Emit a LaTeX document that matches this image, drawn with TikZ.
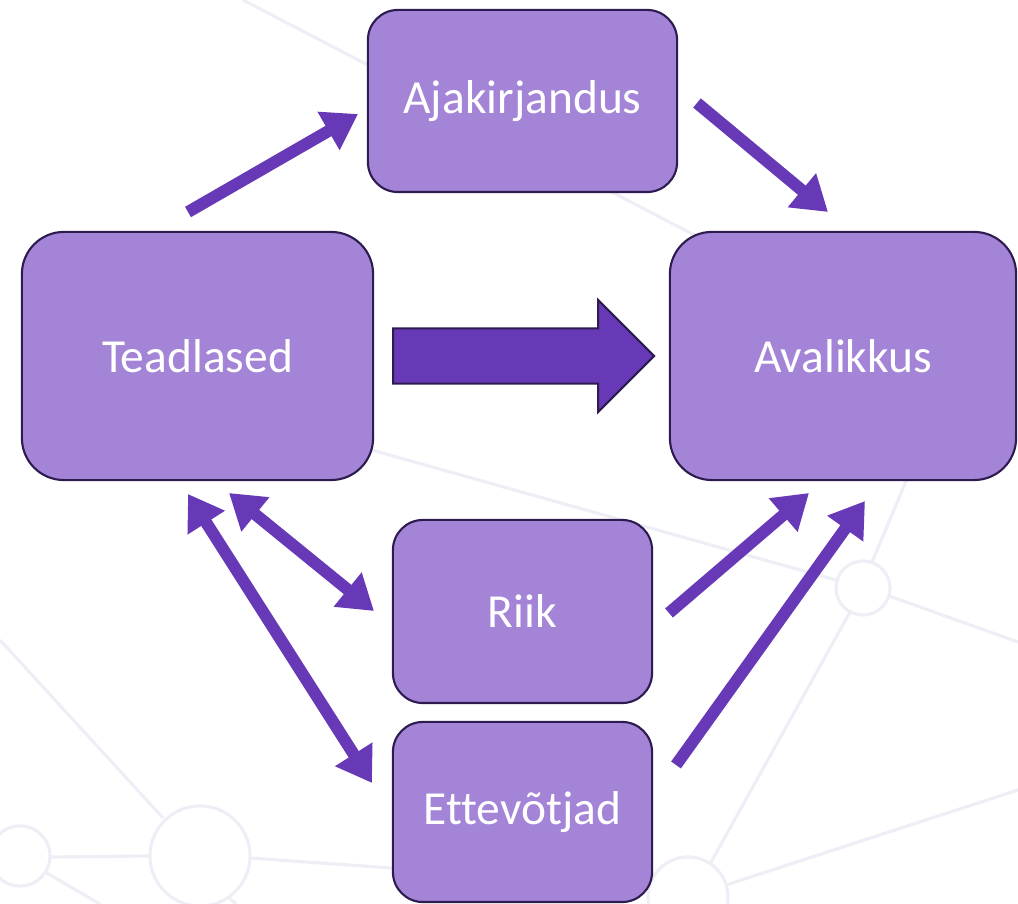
\documentclass[tikz,border=0pt]{standalone}
\usepackage{fontspec}
\setmainfont{Carlito}[Ligatures=NoCommon]
\usetikzlibrary{arrows.meta,shapes.arrows}
\definecolor{boxfill}{HTML}{A384D7}
\definecolor{boxline}{HTML}{2E1B50}
\definecolor{arrowpurple}{HTML}{6739B6}
\definecolor{netgrey}{HTML}{EFEEF6}
\tikzset{
  actor/.style={draw=boxline, line width=0.6pt, fill=boxfill, rounded corners=0.3cm,
    text=white, inner sep=0pt, font=\fontsize{13.5}{16}\selectfont},
  bigactor/.style={actor, rounded corners=0.42cm},
  link/.style={arrowpurple, line width=3.4pt, -{Triangle[length=0.34cm,width=0.42cm]}},
  twoway/.style={link, {Triangle[length=0.34cm,width=0.42cm]}-{Triangle[length=0.34cm,width=0.42cm]}},
  net/.style={draw=netgrey, line width=0.9pt},
}
\begin{document}
\begin{tikzpicture}[x=0.01cm, y=-0.01cm]
      \useasboundingbox (0,0) rectangle (1018,904);
      % faint network in the background
      \draw[net] (243,0) -- (700,238);
      \draw[net] (300,430) -- (836,580);
      \draw[net] (0,640) -- (163,818);
      \draw[net] (200,856) circle[radius=0.5cm];
      \draw[net] (20,856) circle[radius=0.3cm];
      \draw[net] (50,857) -- (150,856);
      \draw[net] (45,872) -- (100,904);
      \draw[net] (228,897) -- (236,904);
      \draw[net] (250,858) -- (420,870);
      \draw[net] (863,588) circle[radius=0.27cm];
      \draw[net] (688,897) circle[radius=0.4cm];
      \draw[net] (710,864) -- (850,612);
      \draw[net] (872,562) -- (915,460);
      \draw[net] (889,596) -- (1018,642);
      \draw[net] (726,885) -- (1018,790);
      % actors
      \node[actor, minimum width=3.09cm, minimum height=1.82cm] (ajak) at (522.5,101) {Ajakirjandus};
      \node[bigactor, minimum width=3.51cm, minimum height=2.48cm] (tead) at (197.5,356) {Teadlased};
      \node[bigactor, minimum width=3.46cm, minimum height=2.48cm] (aval) at (843,356) {Avalikkus};
      \node[actor, minimum width=2.59cm, minimum height=1.83cm] (riik) at (522.5,611.5) {Riik};
      \node[actor, minimum width=2.59cm, minimum height=1.80cm] (ettev) at (522.5,812) {Ettevõtjad};
      % main flow
      \node[single arrow, draw=boxline, line width=0.6pt, fill=arrowpurple,
        minimum height=2.61cm, inner xsep=0pt, inner ysep=0.265cm,
        single arrow head extend=0.285cm, single arrow tip angle=90,
        anchor=tail] (flow) at (392,356) {};
      % arrow ends
      \coordinate (t2a-s) at (188,212);
      \coordinate (t2a-e) at (358,114);
      \coordinate (a2v-s) at (697,103);
      \coordinate (a2v-e) at (828,212);
      \coordinate (tr-s) at (229,493);
      \coordinate (tr-e) at (374,611);
      \coordinate (te-s) at (188,494);
      \coordinate (te-e) at (372,783);
      \coordinate (r2v-s) at (669,613);
      \coordinate (r2v-e) at (809,493);
      \coordinate (e2v-s) at (676,765);
      \coordinate (e2v-e) at (865,501);
      \begin{scope}[link]
        \draw (t2a-s) to (t2a-e);
        \draw (a2v-s) to (a2v-e);
        \draw (r2v-s) to (r2v-e);
        \draw (e2v-s) to (e2v-e);
        \draw[twoway] (tr-s) to (tr-e);
        \draw[twoway] (te-s) to (te-e);
      \end{scope}
    \end{tikzpicture}
\end{document}
